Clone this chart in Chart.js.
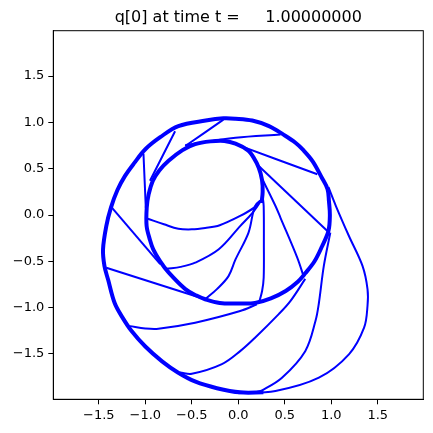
<!DOCTYPE html>
<html>
<head>
<meta charset="utf-8">
<script src="https://cdn.jsdelivr.net/npm/chart.js@4"></script>
<style>
  body { margin: 0; background: #fff; }
  #wrap { width: 433px; height: 433px; }
</style>
</head>
<body>
<div id="wrap"><canvas id="grafica" width="433" height="433"></canvas></div>
<script>
// tick labels
const tickVals = [-1.5, -1.0, -0.5, 0.0, 0.5, 1.0, 1.5];

// thick spiral (hub outward)
const spiral = [
  [0.25, 0.13], [0.262, 0.25], [0.255, 0.38], [0.22, 0.51], [0.165, 0.62], [0.10, 0.70],
  [-0.03, 0.77], [-0.15, 0.80], [-0.30, 0.795], [-0.464, 0.765], [-0.60, 0.70], [-0.75, 0.585],
  [-0.85, 0.48], [-0.92, 0.367], [-0.965, 0.22], [-0.985, 0.08], [-0.986, -0.12], [-0.95, -0.27],
  [-0.915, -0.37], [-0.84, -0.50], [-0.75, -0.62], [-0.57, -0.80], [-0.45, -0.87], [-0.356, -0.91],
  [-0.2, -0.95], [0.003, -0.955], [0.18, -0.95], [0.35, -0.90], [0.51, -0.82], [0.64, -0.72],
  [0.72, -0.63], [0.82, -0.50], [0.90, -0.34], [0.97, -0.17], [0.985, 0.0], [0.975, 0.15],
  [0.96, 0.28], [0.90, 0.40], [0.80, 0.58], [0.70, 0.70], [0.615, 0.78], [0.49, 0.865],
  [0.33, 0.96], [0.15, 1.02], [-0.03, 1.04], [-0.16, 1.044], [-0.35, 1.02], [-0.645, 0.96],
  [-0.84, 0.84], [-1.0, 0.71], [-1.12, 0.56], [-1.22, 0.42], [-1.30, 0.27], [-1.37, 0.08],
  [-1.42, -0.12], [-1.455, -0.37], [-1.44, -0.55], [-1.40, -0.70], [-1.33, -0.95], [-1.25, -1.10],
  [-1.15, -1.25], [-1.00, -1.42], [-0.82, -1.58], [-0.65, -1.70], [-0.46, -1.80], [-0.23, -1.87],
  [0.02, -1.915], [0.27, -1.915]
];

// thin lines
const r1 = [[0.255, 0.17], [0.17, 0.08], [0.02, -0.01], [-0.2, -0.11], [-0.356, -0.14], [-0.5, -0.155], [-0.645, -0.148], [-0.80, -0.10], [-0.975, -0.04]];
const r2 = [[0.255, 0.17], [0.15, 0.02], [0.02, -0.12], [-0.21, -0.37], [-0.464, -0.515], [-0.62, -0.56], [-0.77, -0.58]];
const r3 = [[0.255, 0.17], [0.18, 0.097], [0.11, -0.19], [-0.03, -0.48], [-0.105, -0.66], [-0.23, -0.80], [-0.356, -0.91]];
const r4 = [[0.262, 0.2], [0.273, 0.097], [0.275, -0.3], [0.273, -0.677], [0.256, -0.82], [0.22, -0.955]];
const r5 = [[0.262, 0.38], [0.40, 0.097], [0.454, -0.03], [0.634, -0.46], [0.705, -0.67]];
const r6 = [[0.22, 0.53], [0.958, -0.173]];
const r7 = [[-0.03, 0.765], [0.85, 0.44]];
const r8 = [[-0.57, 0.755], [-0.03, 0.835], [0.454, 0.87]];
const r9 = [[-0.57, 0.745], [-0.16, 1.03]];
const r10 = [[-0.68, 0.905], [-0.95, 0.37]];
const r11 = [[-1.02, 0.66], [-0.995, 0.08]];
const r12 = [[-1.36, 0.08], [-0.84, -0.53]];
const r13 = [[-1.42, -0.57], [-0.356, -0.91]];
const r14 = [[-1.166, -1.20], [-1.0, -1.225], [-0.86, -1.228], [-0.464, -1.163], [0.02, -1.037], [0.2, -0.965]];
const r15 = [[-0.626, -1.70], [-0.5, -1.714], [-0.176, -1.61], [0.02, -1.47], [0.18, -1.325], [0.435, -1.07], [0.56, -0.93], [0.72, -0.69]];
const r16 = [[0.2, -1.91], [0.256, -1.893], [0.47, -1.757], [0.72, -1.47], [0.83, -1.145], [0.867, -0.95], [0.92, -0.55], [0.99, -0.19]];
const r17 = [[0.0, -1.925], [0.40, -1.90], [0.867, -1.757], [1.19, -1.505], [1.353, -1.217], [1.39, -0.98], [1.39, -0.80], [1.336, -0.55], [1.19, -0.227], [1.05, 0.097], [0.97, 0.30]];

const thinLines = [r1, r2, r3, r4, r5, r6, r7, r8, r9, r10, r11, r12, r13, r14, r15, r16, r17];

function toDataset(pts, width) {
  return {
    data: pts.map(p => ({ x: p[0], y: p[1] })),
    showLine: true,
    borderColor: '#0000ff',
    borderWidth: width,
    pointRadius: 0,
    tension: 0.35,
    fill: false
  };
}

const marco = {
  id: 'marco',
  afterDraw(chart) {
    const a = chart.chartArea;
    const c = chart.ctx;
    c.save();
    c.strokeStyle = '#000';
    c.lineWidth = 1;
    c.strokeRect(a.left, a.top, a.right - a.left, a.bottom - a.top);
    c.restore();
  }
};

function ejes(afterFit) {
  return {
    type: 'linear',
    min: -1.99,
    max: 1.99,
    afterBuildTicks: s => { s.ticks = tickVals.map(v => ({ value: v })); },
    afterFit: afterFit,
    ticks: {
      color: '#000',
      font: { family: 'DejaVu Sans', size: 13 },
      padding: 4,
      maxRotation: 0,
      autoSkip: false,
      callback: v => v.toFixed(1).replace('-', '\u2212')
    },
    grid: { display: true, drawOnChartArea: false, drawTicks: true, tickLength: 5, tickColor: '#000', tickWidth: 1 },
    border: { display: true, color: '#000', width: 1 }
  };
}

const ctx = document.getElementById('grafica').getContext('2d');
new Chart(ctx, {
  type: 'scatter',
  data: {
    datasets: [toDataset(spiral, 4)].concat(thinLines.map(l => toDataset(l, 2)))
  },
  options: {
    responsive: false,
    animation: false,
    layout: { padding: { left: 0, right: 9.7, top: 0, bottom: 0 } },
    plugins: {
      legend: { display: false },
      tooltip: { enabled: false },
      title: {
        display: true,
        fullSize: false,
        text: 'q[0] at time t =     1.00000000',
        color: '#000',
        font: { family: 'DejaVu Sans', size: 16, weight: 'normal' },
        padding: { top: 8.7, bottom: 2.8 }
      }
    },
    scales: {
      x: ejes(s => { s.height = 33.7; }),
      y: ejes(s => { s.width = 53.3; })
    }
  },
  plugins: [marco]
});
</script>
</body>
</html>
